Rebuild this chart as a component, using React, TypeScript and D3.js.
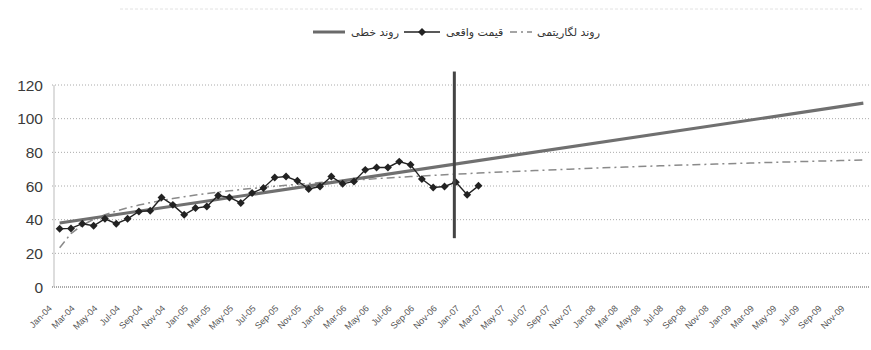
import React from "react";
import * as d3 from "d3";

const W = 871;
const H = 350;

// Monthly categories Jan-04 … Dec-09
const months = d3.timeMonth.range(new Date(2004, 0, 1), new Date(2010, 0, 1));
const fmtMonth = d3.timeFormat("%b-%y");
const categories = months.map(fmtMonth);
const tickLabels = categories.filter((_, i) => i % 2 === 0);

// Observed monthly price, Jan-04 … Feb-07
const actualPrice = [
  34.6, 34.8, 37.6, 36.4, 40.5, 37.6, 40.5, 44.9, 45.3, 53.2,
  48.8, 42.9, 46.9, 47.8, 54.4, 53.2, 49.9, 55.8, 58.8, 65.0,
  65.6, 63.1, 58.2, 59.7, 65.6, 61.3, 62.7, 69.6, 71.0, 71.0,
  74.5, 72.6, 64.1, 59.1, 59.7, 62.3, 54.8, 60.1,
];

// Linear trend: value at first and last month
const linearTrendEnds = [38.0, 109.2];
// Logarithmic trend: a + b·ln(t), t = 1 … 72
const logTrendCoef = [23.3, 12.2];

// Vertical marker at the forecast start
const markerCategory = "Dec-06";
const markerRange = [29, 128];

const yTicks = [0, 20, 40, 60, 80, 100, 120];

const labelLinear = "روند خطی";
const labelActual = "قیمت واقعی";
const labelLog = "روند لگاریتمی";

const plot = { left: 54, right: 869, top: 85, bottom: 287 };

export default function App() {
  const x = d3
    .scaleBand<string>()
    .domain(categories)
    .range([plot.left, plot.right])
    .padding(0);
  const cx = (c: string) => (x(c) as number) + x.bandwidth() / 2;
  const y = d3.scaleLinear().domain([0, 120]).range([plot.bottom, plot.top]);

  const line = d3
    .line<[string, number]>()
    .x((d) => cx(d[0]))
    .y((d) => y(d[1]));

  const actualPts: [string, number][] = actualPrice.map((v, i) => [categories[i], v]);
  const lastIdx = categories.length - 1;
  const linearPts: [string, number][] = [
    [categories[0], linearTrendEnds[0]],
    [categories[lastIdx], linearTrendEnds[1]],
  ];
  const logPts: [string, number][] = categories.map((c, i) => [
    c,
    logTrendCoef[0] + logTrendCoef[1] * Math.log(i + 1),
  ]);

  const diamond = d3.symbol().type(d3.symbolDiamond2).size(40)() as string;

  const legendY = 32;
  const textFont = "'DejaVu Sans', sans-serif";

  return (
    <svg
      width={W}
      height={H}
      style={{ position: "absolute", left: 0, top: 0, background: "#fff" }}
    >
      {/* faint frame line at top */}
      <line x1={120} x2={862} y1={9} y2={9} stroke="#e2e2e2" strokeWidth={1} strokeDasharray="3,2" />

      {/* legend */}
      <g fontFamily={textFont} fontSize={11} fill="#333">
        <line x1={313} x2={345} y1={legendY} y2={legendY} stroke="#6a6a6a" strokeWidth={3} />
        <text x={351} y={legendY + 4}>{labelLinear}</text>
        <line x1={404} x2={440} y1={legendY} y2={legendY} stroke="#222" strokeWidth={1.3} />
        <path d={diamond} transform={`translate(422,${legendY})`} fill="#222" />
        <text x={446} y={legendY + 4}>{labelActual}</text>
        <line x1={510} x2={532} y1={legendY} y2={legendY} stroke="#888" strokeWidth={1.4} strokeDasharray="7,4,2,4" />
        <text x={537} y={legendY + 4}>{labelLog}</text>
      </g>

      {/* gridlines */}
      {yTicks.map((t) => (
        <line
          key={t}
          x1={plot.left - 2}
          x2={plot.right}
          y1={y(t)}
          y2={y(t)}
          stroke={t === 0 ? "#555" : "#aaa"}
          strokeWidth={1}
          strokeDasharray={t === 0 ? "1,1" : "1,2"}
        />
      ))}
      <line x1={plot.left} x2={plot.left} y1={plot.top} y2={plot.bottom} stroke="#bbb" strokeWidth={1} />

      {/* y tick labels */}
      {yTicks.map((t) => (
        <text
          key={t}
          x={43}
          y={y(t)}
          dy="0.36em"
          textAnchor="end"
          fontFamily="'Liberation Sans', Arial, sans-serif"
          fontSize={15.5}
          fill="#3a3a3a"
        >
          {t}
        </text>
      ))}

      {/* x tick labels */}
      {tickLabels.map((c) => {
        const px = cx(c) - 7;
        const py = 309;
        return (
          <text
            key={c}
            x={px}
            y={py}
            textAnchor="end"
            transform={`rotate(-45,${px},${py})`}
            fontFamily="'Liberation Sans', Arial, sans-serif"
            fontSize={9}
            fill="#555"
          >
            {c}
          </text>
        );
      })}

      {/* logarithmic trend */}
      <path d={line(logPts) as string} fill="none" stroke="#8a8a8a" strokeWidth={1.5} strokeDasharray="8,4,2,4" />

      {/* linear trend */}
      <path d={line(linearPts) as string} fill="none" stroke="#707070" strokeWidth={3.2} />

      {/* observed price */}
      <path d={line(actualPts) as string} fill="none" stroke="#222" strokeWidth={1.4} />
      {actualPts.map((d) => (
        <path key={d[0]} d={diamond} transform={`translate(${cx(d[0])},${y(d[1])})`} fill="#222" />
      ))}

      {/* vertical marker */}
      <line
        x1={cx(markerCategory) - 1.5}
        x2={cx(markerCategory) - 1.5}
        y1={y(markerRange[1])}
        y2={y(markerRange[0])}
        stroke="#444"
        strokeWidth={3}
      />
    </svg>
  );
}
